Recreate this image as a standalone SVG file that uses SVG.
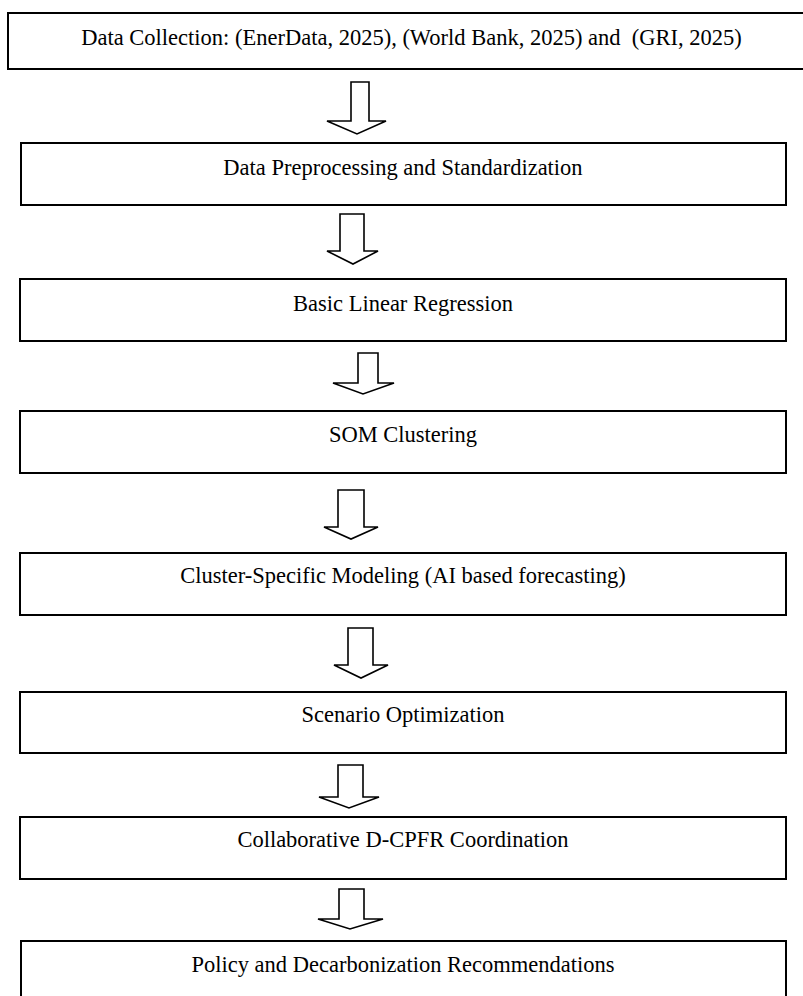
<svg xmlns="http://www.w3.org/2000/svg" width="803" height="996" viewBox="0 0 803 996">
<style>
.box{fill:#fff;stroke:#000;stroke-width:2}
.lbl{font-family:"Liberation Serif","Times New Roman",serif;font-size:22.5px;fill:#000;text-anchor:middle;white-space:pre}
.arr{fill:#fff;stroke:#000;stroke-width:1.6;stroke-linejoin:miter}
</style>
<rect width="803" height="996" fill="#fff"/>
<g id="connectors">
<polygon class="arr" points="351,82 351,121 327,121 357,134 386,121 369,121 369,82"/>
<polygon class="arr" points="340,214 340,251 327,251 353,264 378,251 364,251 364,214"/>
<polygon class="arr" points="358,353 358,383 333,383 363,394 394,383 378,383 378,353"/>
<polygon class="arr" points="338,490 338,527 324,527 351,539 378,527 364,527 364,490"/>
<polygon class="arr" points="348,628 348,665 334,665 361,678 388,665 373,665 373,628"/>
<polygon class="arr" points="338,765 338,797 319,797 349,808 379,797 363,797 363,765"/>
<polygon class="arr" points="339,889 339,919 318,919 350,929 383,919 364,919 364,889"/>
</g>
<g id="n1"><rect class="box" x="8" y="13" width="810" height="56"/><text class="lbl" x="411.5" y="45">Data Collection: (EnerData, 2025), (World Bank, 2025) and  (GRI, 2025)</text></g>
<g id="n2"><rect class="box" x="21" y="143" width="765" height="62"/><text class="lbl" x="403" y="175">Data Preprocessing and Standardization</text></g>
<g id="n3"><rect class="box" x="20" y="279" width="766" height="62"/><text class="lbl" x="403" y="311">Basic Linear Regression</text></g>
<g id="n4"><rect class="box" x="20" y="411" width="766" height="62"/><text class="lbl" x="403" y="442">SOM Clustering</text></g>
<g id="n5"><rect class="box" x="20" y="553" width="766" height="62"/><text class="lbl" x="403" y="583">Cluster-Specific Modeling (AI based forecasting)</text></g>
<g id="n6"><rect class="box" x="20" y="692" width="766" height="61"/><text class="lbl" x="403" y="722">Scenario Optimization</text></g>
<g id="n7"><rect class="box" x="20" y="817" width="766" height="62"/><text class="lbl" x="403" y="847">Collaborative D-CPFR Coordination</text></g>
<g id="n8"><rect class="box" x="21" y="941" width="765" height="62"/><text class="lbl" x="403" y="972">Policy and Decarbonization Recommendations</text></g>
</svg>
